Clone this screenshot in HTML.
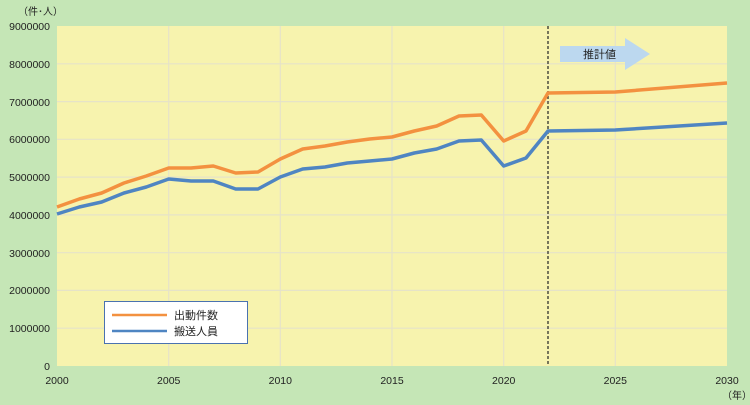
<!DOCTYPE html>
<html><head><meta charset="utf-8"><style>
body{margin:0;background:#c5e6b6;}
svg{display:block;font-family:"Liberation Sans","Noto Sans CJK JP",sans-serif;}
</style></head><body>
<svg width="750" height="405" viewBox="0 0 750 405">
<rect width="750" height="405" fill="#c5e6b6"/>
<rect x="57" y="26" width="670" height="340" fill="#f7f3ae"/>
<g stroke="#e6e3c8" stroke-width="1.2">
<line x1="57" y1="63.8" x2="727" y2="63.8"/><line x1="57" y1="101.6" x2="727" y2="101.6"/>
<line x1="57" y1="139.3" x2="727" y2="139.3"/><line x1="57" y1="177.1" x2="727" y2="177.1"/>
<line x1="57" y1="214.9" x2="727" y2="214.9"/><line x1="57" y1="252.7" x2="727" y2="252.7"/>
<line x1="57" y1="290.4" x2="727" y2="290.4"/><line x1="57" y1="328.2" x2="727" y2="328.2"/>
<line x1="168.7" y1="26" x2="168.7" y2="366"/><line x1="280.3" y1="26" x2="280.3" y2="366"/>
<line x1="392" y1="26" x2="392" y2="366"/><line x1="503.7" y1="26" x2="503.7" y2="366"/>
<line x1="615.3" y1="26" x2="615.3" y2="366"/>
</g>
<g font-size="10.5" fill="#222" text-anchor="end">
<text x="50" y="30">9000000</text><text x="50" y="68">8000000</text><text x="50" y="106">7000000</text>
<text x="50" y="143">6000000</text><text x="50" y="181">5000000</text><text x="50" y="219">4000000</text>
<text x="50" y="257">3000000</text><text x="50" y="294">2000000</text><text x="50" y="332">1000000</text>
<text x="50" y="370">0</text>
</g>
<text x="18" y="15" font-size="10" fill="#222">（件･人）</text>
<g font-size="10.5" fill="#222" text-anchor="middle">
<text x="57" y="384">2000</text><text x="168.7" y="384">2005</text><text x="280.3" y="384">2010</text>
<text x="392" y="384">2015</text><text x="503.7" y="384">2020</text><text x="615.3" y="384">2025</text>
<text x="727" y="384">2030</text>
</g>
<text x="722" y="399" font-size="10" fill="#222">（年）</text>
<line x1="548" y1="26" x2="548" y2="366" stroke="#222" stroke-width="1.2" stroke-dasharray="3,2"/>
<polygon points="560,46 625,46 625,38 650,54 625,70 625,62 560,62" fill="#bcd8ef"/>
<text x="583" y="58" font-size="11" fill="#222">推計値</text>
<polyline fill="none" stroke="#f39140" stroke-width="3.5" stroke-linejoin="round" points="57,207 79.3,199 101.7,193 124,183 146.3,176 168.7,168 191,168 213.3,166 235.7,173 258,172 280.3,159 302.7,149 325,146 347.3,142 369.7,139 392,137 414.3,131 436.7,126 459,116 481.3,115 503.7,141 526,131 548,93 615.3,92 727,83"/>
<polyline fill="none" stroke="#4f85c2" stroke-width="3.5" stroke-linejoin="round" points="57,214 79.3,207 101.7,202 124,193 146.3,187 168.7,179 191,181 213.3,181 235.7,189 258,189 280.3,177 302.7,169 325,167 347.3,163 369.7,161 392,159 414.3,153 436.7,149 459,141 481.3,140 503.7,166 526,158 548,131 615.3,130 727,123"/>
<rect x="104.5" y="301.5" width="143" height="42" fill="#fff" stroke="#4a72b0" stroke-width="1"/>
<line x1="112" y1="315" x2="167" y2="315" stroke="#f39140" stroke-width="2.5"/>
<line x1="112" y1="331" x2="167" y2="331" stroke="#4f85c2" stroke-width="2.5"/>
<text x="174" y="319" font-size="11" fill="#222">出動件数</text>
<text x="174" y="335" font-size="11" fill="#222">搬送人員</text>
</svg>
</body></html>
